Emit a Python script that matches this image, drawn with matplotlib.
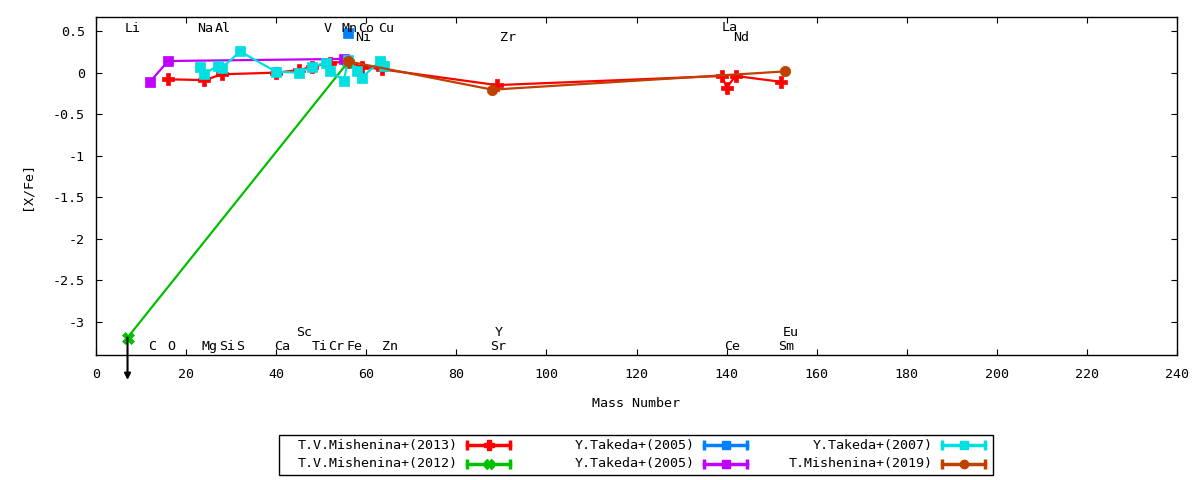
import matplotlib
matplotlib.use('Agg')
import matplotlib.pyplot as plt
from matplotlib.lines import Line2D
from matplotlib.patches import Rectangle

plt.rcParams['font.family'] = ['DejaVu Sans Mono', 'DejaVu Sans']
plt.rcParams['font.size'] = 9.6

# T.V.Mishenina+(2013)
mish13_mass = [16, 24, 28, 40, 45, 48, 52, 56, 59, 63.5, 89, 139, 140, 142, 152]
mish13_val = [-0.08, -0.09, -0.02, 0.0, 0.03, 0.07, 0.12, 0.13, 0.07, 0.04, -0.15, -0.04, -0.18, -0.04, -0.11]

# T.V.Mishenina+(2012)  (Li is an upper limit)
mish12_mass = [7, 56]
mish12_val = [-3.19, 0.13]

# Y.Takeda+(2005) blue
tak05a_mass = [56]
tak05a_val = [0.48]

# Y.Takeda+(2005) purple
tak05b_mass = [12, 16, 55]
tak05b_val = [-0.11, 0.14, 0.165]

# Y.Takeda+(2007)
tak07_mass = [23, 24, 27, 28, 32, 40, 45, 48, 51, 52, 55, 56, 58, 59, 63, 64]
tak07_val = [0.07, -0.02, 0.085, 0.06, 0.255, 0.01, 0.0, 0.07, 0.12, 0.025,
             -0.10, 0.155, 0.02, -0.06, 0.135, 0.085]

# T.Mishenina+(2019)
mish19_mass = [56, 88, 153]
mish19_val = [0.135, -0.205, 0.015]

# element labels (left edge in mass units, baseline in [X/Fe])
label_names = ['Li', 'Na', 'Al', 'V', 'Mn', 'Co', 'Cu', 'La',
               'Ni', 'Zr', 'Nd',
               'C', 'O', 'Mg', 'Si', 'S', 'Ca', 'Ti', 'Cr', 'Fe', 'Zn', 'Sr', 'Ce', 'Sm',
               'Sc', 'Y', 'Eu']
label_x = [6.4, 22.4, 26.4, 50.6, 54.5, 58.2, 62.6, 138.8,
           57.5, 89.7, 141.4,
           11.5, 15.8, 23.5, 27.3, 31.2, 39.6, 47.9, 51.6, 55.7, 63.6, 87.5, 139.4, 151.4,
           44.4, 88.6, 152.5]
label_y = [0.49] * 7 + [0.50] + [0.38] * 3 + [-3.34] * 13 + [-3.17] * 3

series = [
    ('T.V.Mishenina+(2013)', mish13_mass, mish13_val, '#ff0000', 'P', 8),
    ('T.V.Mishenina+(2012)', mish12_mass, mish12_val, '#00c000', 'X', 8),
    ('Y.Takeda+(2005)', tak05a_mass, tak05a_val, '#0080ff', 's', 7.5),
    ('Y.Takeda+(2005)', tak05b_mass, tak05b_val, '#c000ff', 's', 7.5),
    ('Y.Takeda+(2007)', tak07_mass, tak07_val, '#00e0e0', 's', 7.5),
    ('T.Mishenina+(2019)', mish19_mass, mish19_val, '#c04000', 'o', 7.5),
]

fig = plt.figure(figsize=(12, 4.8), dpi=100)
ax = fig.add_axes([96 / 1200, 125 / 480, 1081 / 1200, 338 / 480])

for name, xs, ys, col, mk, ms in series:
    ax.plot(xs, ys, color=col, lw=1.6, marker=mk, ms=ms, mec=col, mfc=col, mew=0.5)

# upper limit arrow for Li
ax.annotate('', xy=(mish12_mass[0], -3.70), xytext=(mish12_mass[0], mish12_val[0]),
            arrowprops=dict(arrowstyle='-|>', color='black', lw=1.5,
                            mutation_scale=9, shrinkA=0, shrinkB=0),
            annotation_clip=False)

for nm, lx, ly in zip(label_names, label_x, label_y):
    ax.text(lx, ly, nm, ha='left', va='baseline')

ax.set_xlim(0, 240)
ax.set_ylim(-3.4, 0.67)
ax.set_xticks(range(0, 241, 20))
ax.set_yticks([0.5, 0, -0.5, -1, -1.5, -2, -2.5, -3])
ax.set_yticklabels(['0.5', '0', '-0.5', '-1', '-1.5', '-2', '-2.5', '-3'])
ax.tick_params(direction='in', length=4.5, width=0.8, top=True, right=True)
ax.tick_params(axis='y', pad=8)
ax.tick_params(axis='x', pad=9)
for sp in ax.spines.values():
    sp.set_linewidth(1.0)

ax.set_xlabel('Mass Number', labelpad=12)
ax.set_ylabel('[X/Fe]', labelpad=14)

# legend drawn like gnuplot's key
fig.patches.append(Rectangle((279 / 1200, 5 / 480), 714 / 1200, 40 / 480, fill=False,
                             lw=1.0, ec='black', transform=fig.transFigure))
col_text_x = [458, 695, 933]
col_line_x = [467, 704, 942]
row_y = [445, 464]
for i, (name, xs, ys, col, mk, ms) in enumerate(series):
    c, r = i // 2, i % 2
    yf = (480 - row_y[r]) / 480
    fig.text(col_text_x[c] / 1200, yf, name, ha='right', va='center')
    x0 = col_line_x[c] / 1200
    x1 = (col_line_x[c] + 43) / 1200
    fig.add_artist(Line2D([x0, x1], [yf, yf], color=col, lw=2.5, transform=fig.transFigure))
    fig.add_artist(Line2D([x0, x1], [yf, yf], color=col, lw=0, marker='|', ms=7, mew=2.5,
                          transform=fig.transFigure))
    fig.add_artist(Line2D([(x0 + x1) / 2], [yf], color=col, marker=mk, ms=ms - 1.5,
                          mec=col, mfc=col, transform=fig.transFigure))

fig.savefig('out.png', dpi=100)
